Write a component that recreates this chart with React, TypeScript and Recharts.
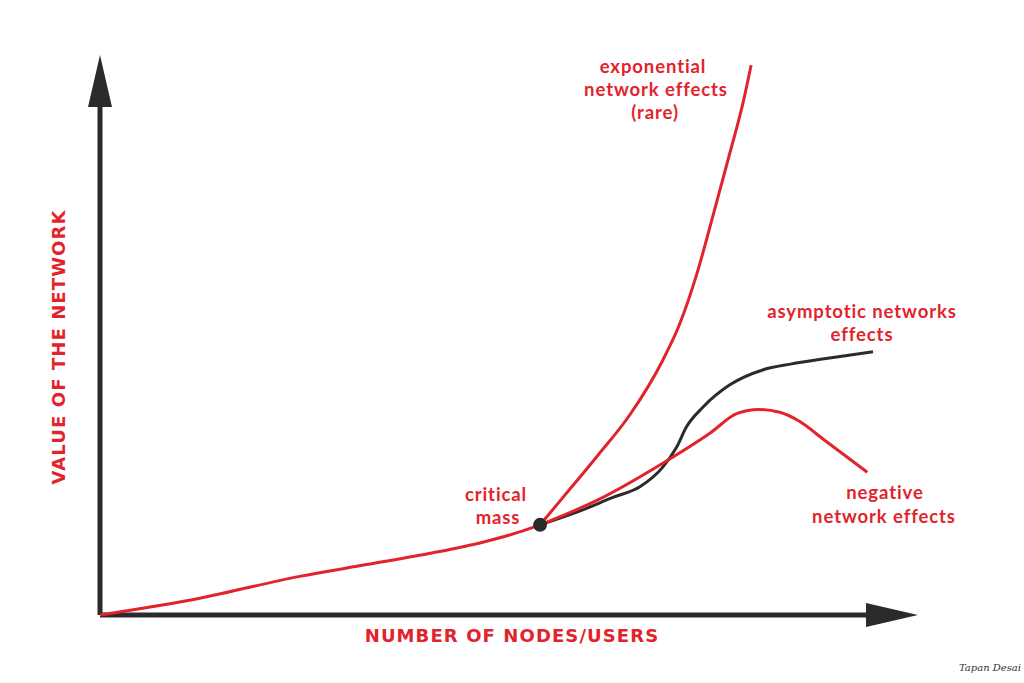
import { LineChart, Line, XAxis, YAxis, ReferenceLine, ReferenceDot } from "recharts";

const RED = "#e3232b";
const INK = "#2b2b2b";

// x: number of nodes/users (0-100), y: value of the network (0-100)
const baseCurve = [
  { x: 0, y: 0 },
  { x: 12.2, y: 3.0 },
  { x: 24.4, y: 6.9 },
  { x: 32.6, y: 9.0 },
  { x: 40.7, y: 11.1 },
  { x: 46.8, y: 13.0 },
  { x: 51.0, y: 14.7 },
  { x: 53.8, y: 16.1 },
];

const exponential = [
  { x: 53.8, y: 16.1 },
  { x: 56.6, y: 21.0 },
  { x: 60.8, y: 28.4 },
  { x: 64.8, y: 35.8 },
  { x: 68.8, y: 45.5 },
  { x: 70.9, y: 52.1 },
  { x: 73.0, y: 61.1 },
  { x: 74.9, y: 71.1 },
  { x: 77.0, y: 82.5 },
  { x: 78.6, y: 91.4 },
  { x: 79.6, y: 98.2 },
];

const asymptotic = [
  { x: 53.8, y: 16.1 },
  { x: 58.7, y: 18.6 },
  { x: 62.7, y: 21.0 },
  { x: 66.0, y: 22.9 },
  { x: 68.8, y: 26.4 },
  { x: 70.5, y: 30.0 },
  { x: 71.7, y: 33.6 },
  { x: 73.7, y: 37.1 },
  { x: 77.0, y: 41.1 },
  { x: 81.1, y: 43.8 },
  { x: 84.4, y: 44.8 },
  { x: 89.2, y: 45.9 },
  { x: 94.5, y: 47.0 },
];

const negative = [
  { x: 53.8, y: 16.1 },
  { x: 60.8, y: 20.5 },
  { x: 68.8, y: 27.1 },
  { x: 74.6, y: 32.5 },
  { x: 77.9, y: 36.0 },
  { x: 80.5, y: 36.7 },
  { x: 83.1, y: 36.2 },
  { x: 85.5, y: 34.6 },
  { x: 88.5, y: 31.3 },
  { x: 93.8, y: 25.5 },
];

const criticalMass = { x: 53.8, y: 16.1 };

const noteFont = { fontFamily: "Lato", fontWeight: 700, fontSize: 18.5, fill: RED, letterSpacing: 0.9 } as const;
const titleFont = { fontFamily: "DejaVu Sans", fontWeight: 700, fontSize: 18, fill: RED, letterSpacing: 1.1 } as const;

const RightArrow = (props: any) => {
  const { cx, cy } = props;
  return <polygon points={`${cx},${cy} ${cx - 52},${cy - 12} ${cx - 52},${cy + 12}`} fill={INK} />;
};

const UpArrow = (props: any) => {
  const { cx, cy } = props;
  return <polygon points={`${cx},${cy} ${cx - 12},${cy + 52} ${cx + 12},${cy + 52}`} fill={INK} />;
};

export default function App() {
  return (
    <div style={{ position: "absolute", left: 0, top: 0, width: 1024, height: 683, background: "#fff" }}>
      <LineChart width={1024} height={683} margin={{ top: 55, right: 106, bottom: 68, left: 100 }}>
        <XAxis type="number" dataKey="x" domain={[0, 100]} hide />
        <YAxis type="number" dataKey="y" domain={[0, 100]} hide />

        <ReferenceLine segment={[{ x: 0, y: 0 }, { x: 94, y: 0 }]} stroke={INK} strokeWidth={5} />
        <ReferenceLine segment={[{ x: 0, y: 0 }, { x: 0, y: 92 }]} stroke={INK} strokeWidth={5} />
        <ReferenceDot x={100} y={0} r={1} shape={RightArrow} />
        <ReferenceDot x={0} y={100} r={1} shape={UpArrow} />

        <Line data={baseCurve} dataKey="y" type="monotone" stroke={RED} strokeWidth={3} dot={false} isAnimationActive={false} />
        <Line data={asymptotic} dataKey="y" type="monotone" stroke={INK} strokeWidth={3} dot={false} isAnimationActive={false} />
        <Line data={negative} dataKey="y" type="monotone" stroke={RED} strokeWidth={3} dot={false} isAnimationActive={false} />
        <Line data={exponential} dataKey="y" type="monotone" stroke={RED} strokeWidth={3} dot={false} isAnimationActive={false} />

        <ReferenceDot x={criticalMass.x} y={criticalMass.y} r={7} fill={INK} stroke="none" />

        <text x={653} y={73} textAnchor="middle" {...noteFont}>exponential</text>
        <text x={656} y={96} textAnchor="middle" {...noteFont}>network effects</text>
        <text x={655} y={119} textAnchor="middle" {...noteFont}>(rare)</text>

        <text x={862} y={318} textAnchor="middle" {...noteFont}>asymptotic networks</text>
        <text x={862} y={341} textAnchor="middle" {...noteFont}>effects</text>

        <text x={885} y={499} textAnchor="middle" {...noteFont}>negative</text>
        <text x={884} y={523} textAnchor="middle" {...noteFont}>network effects</text>

        <text x={496} y={501} textAnchor="middle" {...noteFont}>critical</text>
        <text x={498} y={524} textAnchor="middle" {...noteFont}>mass</text>

        <text x={512} y={642} textAnchor="middle" {...titleFont}>NUMBER OF NODES/USERS</text>
        <text x={65} y={347} textAnchor="middle" transform="rotate(-90 65 347)" {...titleFont}>VALUE OF THE NETWORK</text>

        <text x={990} y={671} textAnchor="middle" fontFamily="DejaVu Serif" fontStyle="italic" fontSize={10} fill="#333">Tapan Desai</text>
      </LineChart>
    </div>
  );
}
